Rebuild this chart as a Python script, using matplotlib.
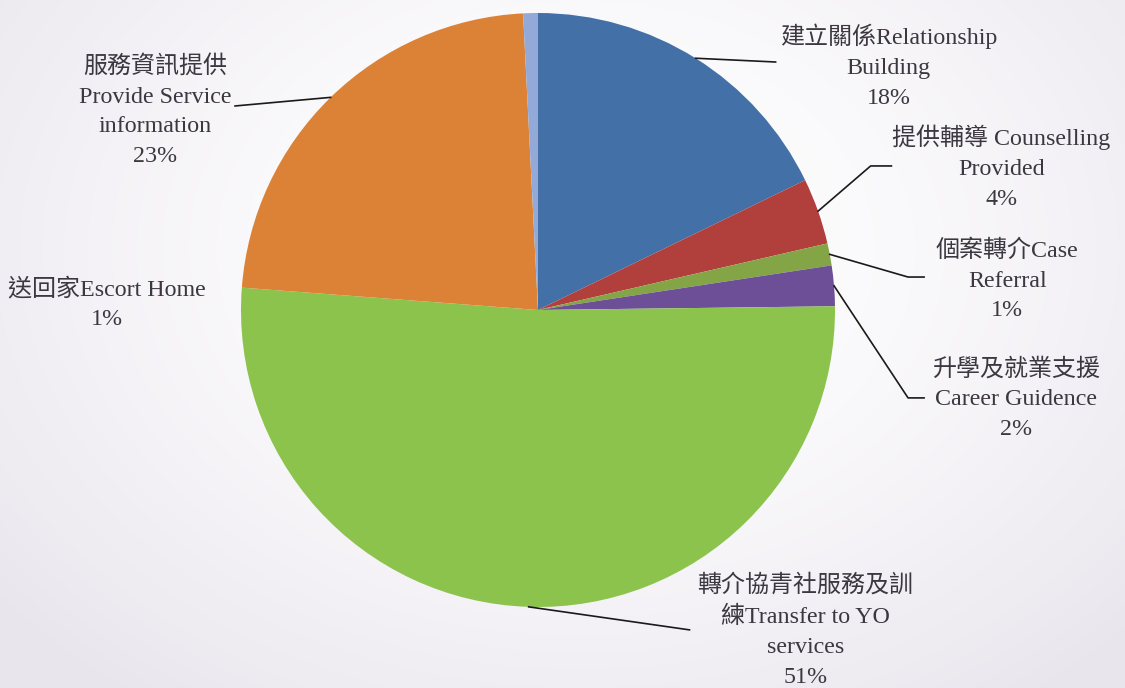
# Youth outreach service breakdown - pie chart

import numpy as np
import matplotlib
matplotlib.use('Agg')
import matplotlib.pyplot as plt

labels = [
    '建立關係Relationship\nBuilding\n18%',
    '提供輔導 Counselling\nProvided\n4%',
    '個案轉介Case\nReferral\n1%',
    '升學及就業支援\nCareer Guidence\n2%',
    '轉介協青社服務及訓\n練Transfer to YO\nservices\n51%',
    '服務資訊提供\nProvide Service\ninformation\n23%',
    '送回家Escort Home\n1%',
]
shares = [17.8, 3.6, 1.2, 2.2, 51.4, 23.0, 0.8]
colors = ['#4371a7', '#b13f3c', '#83a546', '#6d4f98', '#8cc34d', '#dc8236', '#93aad8']

# label layout in pie-radius units: text centre, elbow of leader, end of leader (None = no leader)
text_pos = [(1.18, 0.82), (1.56, 0.48), (1.58, 0.10), (1.61, -0.30),
            (0.90, -1.08), (-1.29, 0.67), (-1.45, 0.02)]
elbow_pos = [None, (1.12, 0.485), (1.246, 0.111), (1.246, -0.296),
             None, None, None]
end_pos = [(0.80, 0.835), (1.19, 0.485), (1.30, 0.111), (1.30, -0.296),
           (0.51, -1.077), (-1.02, 0.687), None]

fig = plt.figure(figsize=(11.25, 6.88), dpi=100)

# soft radial background
bg = fig.add_axes([0, 0, 1, 1])
yy, xx = np.mgrid[0:688, 0:1125]
d = np.sqrt(((xx - 580) / 750.0) ** 2 + ((yy - 250) / 560.0) ** 2)
t = np.clip(d, 0, 1)[..., None] ** 1.6
img = (1 - t) * np.array([1.0, 1.0, 1.0]) + t * np.array([0.915, 0.90, 0.93])
bg.imshow(img, aspect='auto')
bg.axis('off')

ax = fig.add_axes([0, 0, 1, 1])
ax.patch.set_alpha(0)
wedges, _ = ax.pie(shares, colors=colors, startangle=90, counterclock=False,
                   radius=1, wedgeprops=dict(linewidth=0))
ax.set_xlim(-538 / 297, (1125 - 538) / 297)
ax.set_ylim(-(688 - 310) / 297, 310 / 297)
ax.set_aspect('auto')
ax.axis('off')

font = dict(family=['Liberation Serif', 'Noto Sans CJK TC'], fontsize=17.3,
            color='#3c3740', ha='center', va='center', linespacing=1.55)

for w, lab, tp, ep, el in zip(wedges, labels, text_pos, end_pos, elbow_pos):
    ax.text(tp[0], tp[1], lab, **font)
    if ep is None:
        continue
    ang = np.deg2rad((w.theta1 + w.theta2) / 2)
    xs = [np.cos(ang)]
    ys = [np.sin(ang)]
    if el is not None:
        xs.append(el[0])
        ys.append(el[1])
    xs.append(ep[0])
    ys.append(ep[1])
    ax.plot(xs, ys, color='#1a1a1a', lw=1.2)

fig.savefig('out.png', dpi=100)
